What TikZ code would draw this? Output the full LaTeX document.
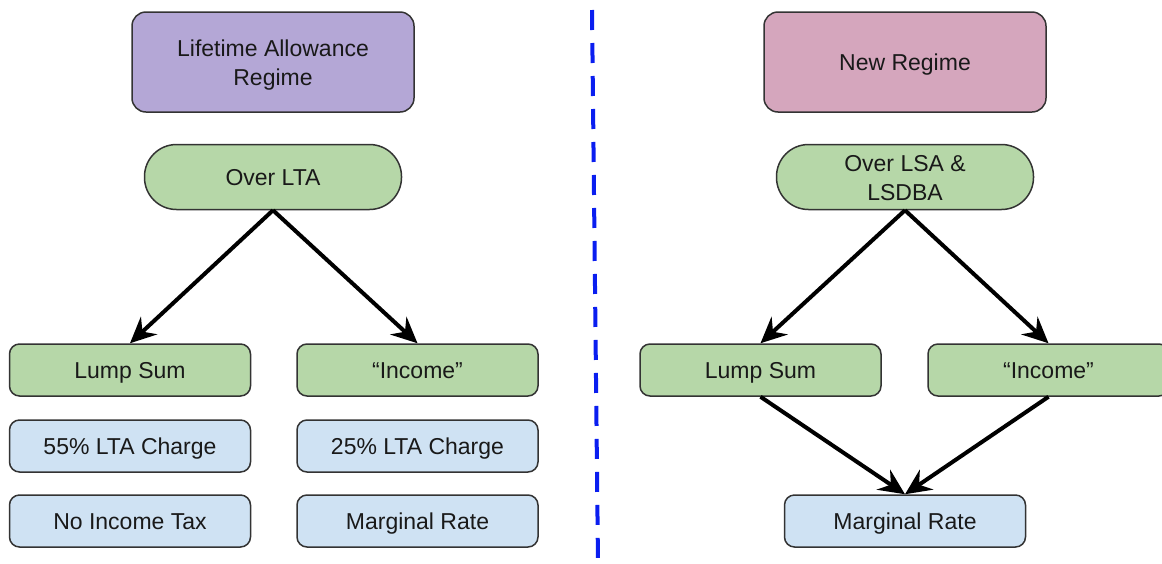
\documentclass[tikz,border=0pt]{standalone}
\usepackage{fontspec}
\setmainfont{Liberation Sans}
\usetikzlibrary{arrows.meta}
\definecolor{purpfill}{HTML}{B4A7D6}
\definecolor{pinkfill}{HTML}{D5A6BD}
\definecolor{greenfill}{HTML}{B6D7A8}
\definecolor{bluefill}{HTML}{CFE2F3}
\definecolor{edgegray}{HTML}{333333}
\definecolor{dashblue}{HTML}{0A1EF0}
\tikzset{
  box/.style={draw=edgegray, line width=1.5pt, rounded corners=10pt, minimum width=241pt, minimum height=52pt, inner sep=0pt, font=\fontsize{23}{29}\selectfont, text=black!90, align=center},
  oneline/.style={text height=20pt, text depth=3.5pt},
  headbox/.style={box, minimum width=282pt, minimum height=100pt, rounded corners=14pt},
  stadium/.style={box, minimum width=257pt, minimum height=65pt, rounded corners=32pt},
  greenbox/.style={box, oneline, fill=greenfill},
  bluebox/.style={box, oneline, fill=bluefill},
  arr/.style={-{Stealth[length=26pt,width=24pt,inset=9pt]}, line width=4pt, black},
  divider/.style={dashblue, line width=4pt, dash pattern=on 20pt off 13pt}
}
\begin{document}
\begin{tikzpicture}[x=1pt,y=-1pt]
\useasboundingbox (0,0) rectangle (1162,563);
\clip (0,0) rectangle (1162,563);
% left
\node[headbox, fill=purpfill] (lreg) at (273,62) {\rule{0pt}{23pt}Lifetime Allowance\\Regime};
\node[stadium, oneline, fill=greenfill] (olta) at (273,177) {Over LTA};
\node[greenbox] (lsl) at (130,370) {Lump Sum};
\node[greenbox] (inl) at (417.5,370) {“Income”};
\node[bluebox] (c55) at (130,446) {55\% LTA Charge};
\node[bluebox] (c25) at (417.5,446) {25\% LTA Charge};
\node[bluebox] (nit) at (130,521) {No Income Tax};
\node[bluebox] (mrl) at (417.5,521) {Marginal Rate};
\draw[arr] (olta.south) -- (lsl.north);
\draw[arr] (olta.south) -- (inl.north);
% divider
\coordinate (dtop) at (592,10);
\coordinate (dbot) at (598,563);
\draw[divider] (dtop) -- (dbot);
% right
\node[headbox, oneline, fill=pinkfill] (nreg) at (905,62) {New Regime};
\node[stadium, fill=greenfill] (olsa) at (905,177) {\rule{0pt}{19pt}Over LSA \&\\LSDBA};
\node[greenbox] (lsr) at (760.5,370) {Lump Sum};
\node[greenbox] (inr) at (1048.5,370) {“Income”};
\node[bluebox] (mrr) at (905,521) {Marginal Rate};
\draw[arr] (olsa.south) -- (lsr.north);
\draw[arr] (olsa.south) -- (inr.north);
\draw[arr] (lsr.south) -- (mrr.north);
\draw[arr] (inr.south) -- (mrr.north);
\end{tikzpicture}
\end{document}
